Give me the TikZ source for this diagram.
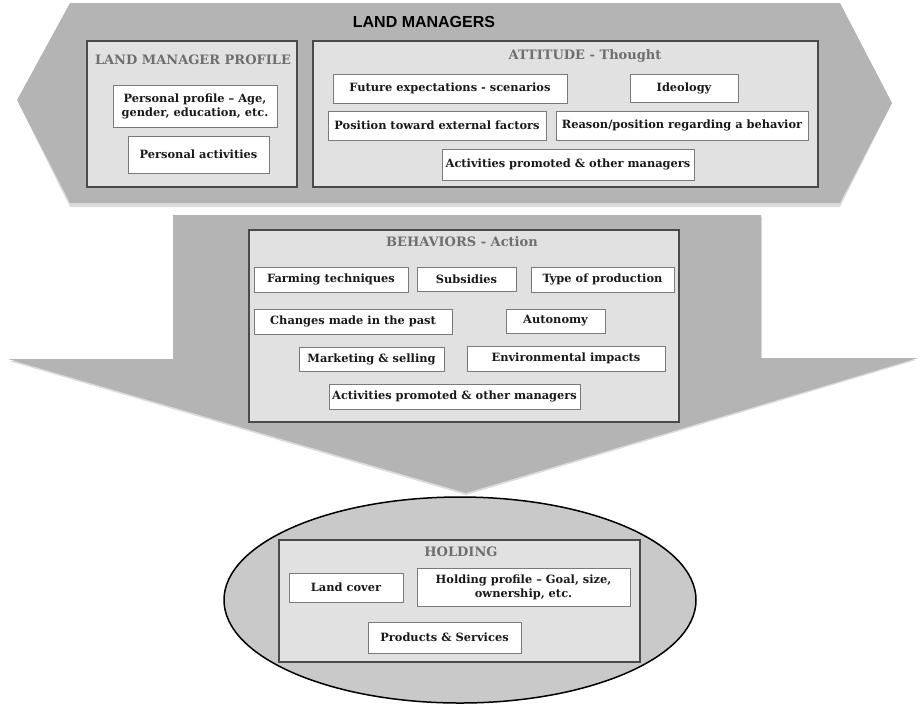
\documentclass[tikz,border=0pt]{standalone}
\usepackage{fontspec}
\setmainfont{DejaVu Serif}
\newfontfamily\headsans{Liberation Sans}
\usetikzlibrary{shapes.geometric}
\definecolor{bigfill}{HTML}{B4B4B4}
\definecolor{shadowc}{HTML}{DCDCDC}
\definecolor{panelfill}{HTML}{E1E1E1}
\definecolor{paneldraw}{HTML}{4A4A4A}
\definecolor{boxdraw}{HTML}{7A7A7A}
\definecolor{titlec}{HTML}{6E6E6E}
\definecolor{ellfill}{HTML}{C9C9C9}
\tikzset{
  panel/.style={draw=paneldraw, fill=panelfill, line width=1.1pt, inner sep=0pt},
  item/.style={draw=boxdraw, fill=white, line width=1pt, inner sep=0pt, align=center,
    font=\fontsize{11.4}{14}\selectfont\bfseries, text=black!90},
  ptitle/.style={font=\fontsize{13}{15}\selectfont\bfseries, text=titlec, inner sep=0pt},
}
\begin{document}
\begin{tikzpicture}[x=1pt,y=-1pt]
\useasboundingbox (0,0) rectangle (920,705);
% top shape with shadow
\fill[shadowc] (70,7) -- (840,7) -- (890,107) -- (840,207) -- (70,207) -- (19,104) -- cycle;
\fill[bigfill] (70,3) -- (840,3) -- (892,103) -- (840,203) -- (70,203) -- (17,100) -- cycle;
% behaviors arrow
\fill[shadowc] (174,217) -- (762,217) -- (762,360) -- (916,360) -- (466,495) -- (9,361) -- (174,361) -- cycle;
\fill[bigfill] (173,215) -- (761,215) -- (761,358) -- (918,358) -- (466,493) -- (8,359) -- (173,359) -- cycle;
% ellipse
\node[ellipse, draw=black, fill=ellfill, line width=1.5pt, minimum width=472pt, minimum height=206pt, inner sep=0pt] (ell) at (460,600) {};

\node[font=\headsans\fontsize{16}{18}\selectfont\bfseries, inner sep=0pt] (lm) at (424,22) {LAND MANAGERS};

% panels
\node[panel, minimum width=210pt, minimum height=146pt] (lmp) at (192,114) {};
\node[panel, minimum width=505pt, minimum height=146pt] (att) at (565.5,114) {};
\node[panel, minimum width=430pt, minimum height=192pt] (beh) at (464,326) {};
\node[panel, minimum width=361pt, minimum height=122pt] (hol) at (459.5,601) {};

\node[ptitle] (lmpt) at (193,60) {LAND MANAGER PROFILE};
\node[ptitle] (attt) at (585,56) {ATTITUDE - Thought};
\node[ptitle] (beht) at (462,242) {BEHAVIORS - Action};
\node[ptitle] (holt) at (461,552) {HOLDING};

% land manager profile items
\node[item, minimum width=164pt, minimum height=42pt] (pp) at (195,106) {Personal profile -- Age,\\gender, education, etc.};
\node[item, minimum width=141pt, minimum height=37pt] (pa) at (198.5,154.5) {Personal activities};

% attitude items
\node[item, minimum width=234pt, minimum height=29pt] (fe) at (450,88.5) {Future expectations - scenarios};
\node[item, minimum width=108pt, minimum height=28pt] (id) at (684,88) {Ideology};
\node[item, minimum width=218pt, minimum height=29pt] (pt) at (437,125.5) {Position toward external factors};
\node[item, minimum width=252pt, minimum height=29pt] (rp) at (682,125.5) {Reason/position regarding a behavior};
\node[item, minimum width=252pt, minimum height=31pt] (ap) at (568,164.5) {Activities promoted \& other managers};

% behaviors items
\node[item, minimum width=154pt, minimum height=25pt] (ft) at (331,279.5) {Farming techniques};
\node[item, minimum width=99pt, minimum height=24pt] (su) at (466.5,279) {Subsidies};
\node[item, minimum width=143pt, minimum height=25pt] (tp) at (602.5,279.5) {Type of production};
\node[item, minimum width=198pt, minimum height=25pt] (ch) at (353,321.5) {Changes made in the past};
\node[item, minimum width=99pt, minimum height=24pt] (au) at (555.5,321) {Autonomy};
\node[item, minimum width=145pt, minimum height=24pt] (ms) at (371.5,359) {Marketing \& selling};
\node[item, minimum width=198pt, minimum height=25pt] (ei) at (566,358.5) {Environmental impacts};
\node[item, minimum width=251pt, minimum height=25pt] (ap2) at (454.5,396.5) {Activities promoted \& other managers};

% holding items
\node[item, minimum width=114pt, minimum height=29pt] (lc) at (346,587.5) {Land cover};
\node[item, minimum width=213pt, minimum height=38pt] (hp) at (523.5,587) {Holding profile -- Goal, size,\\ownership, etc.};
\node[item, minimum width=153pt, minimum height=31pt] (ps) at (444.5,637.5) {Products \& Services};
\end{tikzpicture}
\end{document}
